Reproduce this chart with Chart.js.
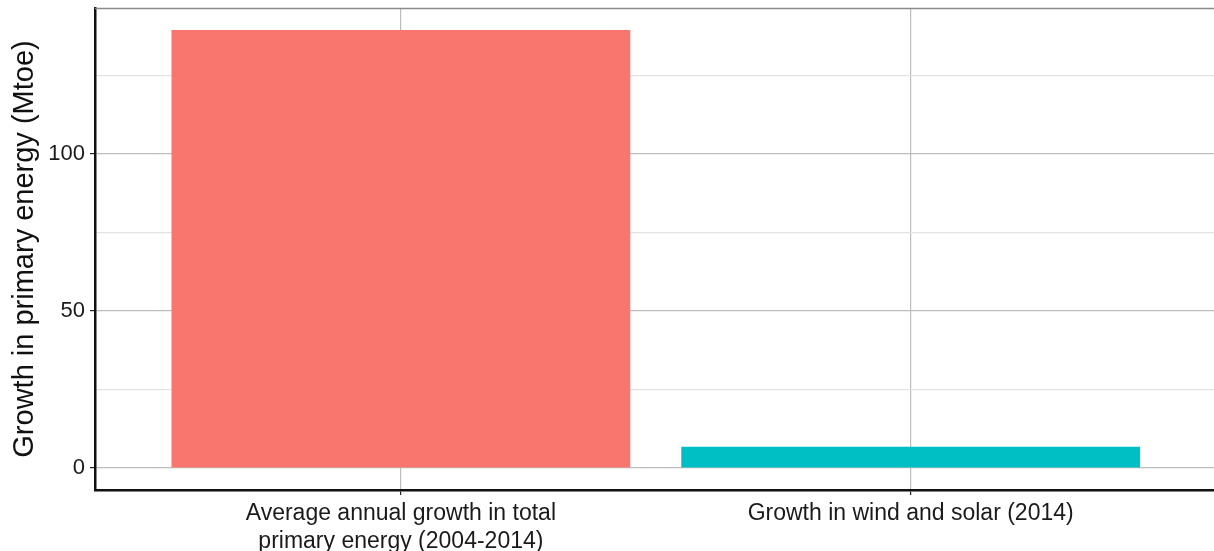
<!DOCTYPE html>
<html>
<head>
<meta charset="utf-8">
<script src="https://cdn.jsdelivr.net/npm/chart.js@4/dist/chart.umd.min.js"></script>
<style>
  html, body { margin: 0; padding: 0; background: #fff; }
  #wrap { width: 1214px; height: 551px; position: relative; }
</style>
</head>
<body>
<div id="wrap"><canvas id="chart"></canvas></div>
<script>
/* Growth in primary energy, Mtoe */
var categories = [
  ['Average annual growth in total', 'primary energy (2004-2014)'],
  ['Growth in wind and solar (2014)']
];
var values = [139.5, 6.8];
var barColours = ['#F8766D', '#00BFC4'];
var yTickLabels = [0, 50, 100];

var FONT = "'Liberation Sans', Arial, sans-serif";
var MAJOR_GRID = '#bdbdbd';
var MINOR_GRID = '#e3e3e3';

var points = values.map(function(v, i) { return { x: i + 1, y: v }; });

/* thin grey line across the top of the panel */
var topLinePlugin = {
  id: 'topLine',
  afterDraw: function(chart) {
    var ctx = chart.ctx;
    var area = chart.chartArea;
    ctx.save();
    ctx.strokeStyle = '#8a8a8a';
    ctx.lineWidth = 1.5;
    ctx.beginPath();
    ctx.moveTo(area.left, area.top + 0.5);
    ctx.lineTo(area.right, area.top + 0.5);
    ctx.stroke();
    ctx.restore();
  }
};

new Chart(document.getElementById('chart').getContext('2d'), {
  type: 'bar',
  data: {
    datasets: [{
      data: points,
      backgroundColor: barColours,
      borderWidth: 0,
      barPercentage: 0.9,
      categoryPercentage: 1.0
    }]
  },
  options: {
    responsive: true,
    maintainAspectRatio: false,
    animation: false,
    layout: { padding: { top: 8, right: 0, left: 0, bottom: 0 } },
    plugins: {
      legend: { display: false },
      tooltip: { enabled: false }
    },
    scales: {
      x: {
        type: 'linear',
        min: 0.4,
        max: 2.595,
        offset: false,
        afterBuildTicks: function(axis) {
          axis.ticks = categories.map(function(c, i) { return { value: i + 1 }; });
        },
        afterFit: function(axis) {
          axis.height = 61;
          axis.paddingLeft = 0;
          axis.paddingRight = 0;
        },
        ticks: {
          callback: function(value) { return categories[value - 1] || ''; },
          font: { family: FONT, size: 23, lineHeight: 1.2 },
          color: '#1a1a1a',
          padding: 5,
          maxRotation: 0,
          autoSkip: false
        },
        grid: {
          offset: false,
          color: MAJOR_GRID,
          lineWidth: 1.2,
          tickColor: '#222',
          tickLength: 5,
          drawTicks: true
        },
        border: { color: '#111', width: 2.5 }
      },
      y: {
        min: -6.98,
        max: 146.5,
        afterBuildTicks: function(axis) {
          var t = [];
          for (var v = 0; v <= 125; v += 25) t.push({ value: v });
          axis.ticks = t;
        },
        afterFit: function(axis) {
          axis.width = 95;
          axis.paddingTop = 0;
          axis.paddingBottom = 0;
        },
        ticks: {
          callback: function(value) {
            return yTickLabels.indexOf(value) >= 0 ? String(value) : '';
          },
          font: { family: FONT, size: 22 },
          color: '#1a1a1a',
          padding: 5
        },
        grid: {
          color: function(c) {
            return yTickLabels.indexOf(c.tick.value) >= 0 ? MAJOR_GRID : MINOR_GRID;
          },
          lineWidth: 1.2,
          tickColor: function(c) {
            return yTickLabels.indexOf(c.tick.value) >= 0 ? '#222' : 'rgba(0,0,0,0)';
          },
          tickLength: 5
        },
        border: { color: '#111', width: 2.5 },
        title: {
          display: true,
          text: 'Growth in primary energy (Mtoe)',
          font: { family: FONT, size: 29 },
          color: '#111',
          padding: { top: 8, bottom: 4 }
        }
      }
    }
  },
  plugins: [topLinePlugin]
});
</script>
</body>
</html>
